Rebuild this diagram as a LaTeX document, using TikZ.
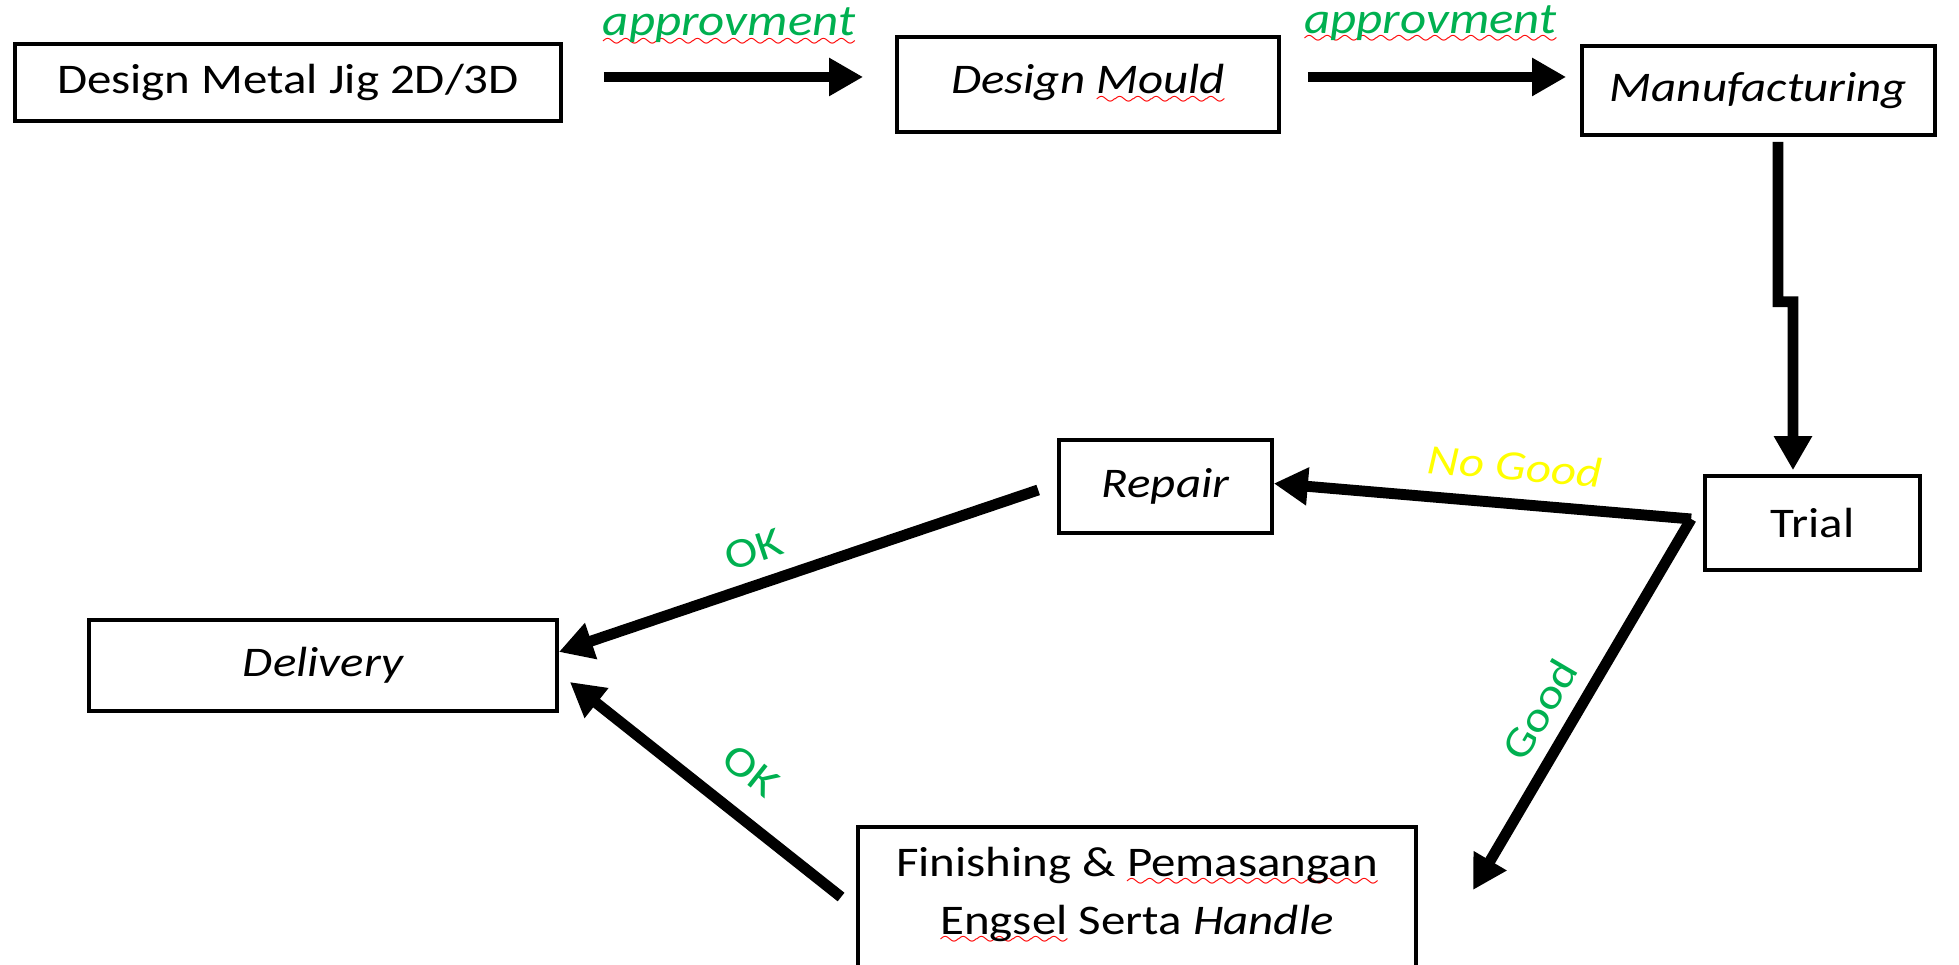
\documentclass[tikz,border=0pt]{standalone}
\usepackage{fontspec}
\setmainfont{Carlito}[FakeStretch = 1.16]
\usetikzlibrary{arrows.meta}

\font\wavefont = lasy6
\newsavebox{\wavebox}
\newcommand{\redwave}[1]{\sbox{\wavebox}{#1}\rlap{\textcolor{red}{\lower3pt\hbox to \wd\wavebox{\wavefont\xleaders\hbox{\char58}\hfill}}}\usebox{\wavebox}}

\definecolor{okgreen}{HTML}{00B050}
\definecolor{ngyellow}{HTML}{FFFF00}

\tikzset{
	box/.style = {draw, line width = 1pt, inner sep = 0pt, font = \fontsize{12}{16.6}\selectfont},
	ibox/.style = {box, font = \fontsize{12}{16.6}\selectfont\itshape},
	flow/.style = {->, line width = 3.1pt},
	greenlbl/.style = {text = okgreen, font = \fontsize{12.5}{15}\selectfont\itshape, inner sep = 1pt},
	oklbl/.style = {text = okgreen, font = \fontsize{12}{14}\selectfont, inner sep = 1pt},
	nglbl/.style = {text = ngyellow, font = \fontsize{12}{14}\selectfont\itshape, inner sep = 1pt}
}

\begin{document}
\begin{tikzpicture}[x = 0.01cm, y = -0.01cm, > = {Triangle[length = 0.34cm, width = 0.36cm]}]

	% Page frame

	\useasboundingbox (0, 0) rectangle (1959, 965);
	\clip (0, 0) rectangle (1959, 965);

	% Top row

	\node [box, minimum width = 5.46cm, minimum height = 0.77cm] (jig) at (288, 82.5) {Design Metal Jig 2D/3D};
	\node [ibox, minimum width = 3.82cm, minimum height = 0.95cm] (mould) at (1088, 84.5) {Design \redwave{Mould}};
	\node [ibox, minimum width = 3.53cm, minimum height = 0.89cm] (manuf) at (1758.5, 90.5) {Manufacturing};

	% Lower part

	\node [box, minimum width = 2.15cm, minimum height = 0.94cm] (trial) at (1812.5, 523) {Trial};
	\node [ibox, minimum width = 2.13cm, minimum height = 0.93cm] (repair) at (1165.5, 486.5) {Repair};
	\node [ibox, minimum width = 4.68cm, minimum height = 0.91cm] (delivery) at (323, 665.5) {Delivery};
	\node [box, anchor = north, align = center, minimum width = 5.58cm, inner ysep = 0.2cm, text depth = 1.6cm] (finish) at (1137, 825)
		{Finishing \& \redwave{Pemasangan}\\\redwave{Engsel} Serta \textit{Handle}};

	% Approval arrows

	\coordinate (a1) at ([yshift = 0.055cm] jig.east);
	\coordinate (a2) at ([yshift = 0.075cm] mould.east);

	\draw [flow, shorten < = 0.41cm, shorten > = 0.32cm] (a1) -- node [greenlbl, above = 0.22cm] {\redwave{approvment}} (a1 -| mould.west);
	\draw [flow, shorten < = 0.27cm, shorten > = 0.14cm] (a2) -- node [greenlbl, above = 0.24cm] {\redwave{approvment}} (a2 -| manuf.west);

	% Down to trial

	\draw [flow] ([xshift = 0.195cm, yshift = -0.05cm] manuf.south) -- ++(0, 160) -- ++(15, 0) -- ([xshift = -0.195cm, yshift = 0.04cm] trial.north);

	% Trial outcomes

	\coordinate (split) at ([xshift = -0.12cm, yshift = 0.04cm] trial.west);

	\draw [flow] (split) -- node [nglbl, pos = 0.43, sloped, above = 0.14cm] {No Good} ([yshift = 0.03cm] repair.east);
	\draw [flow] (split) -- node [oklbl, pos = 0.56, sloped, above = 0.1cm] {Good} ([xshift = 0.55cm, yshift = -0.65cm] finish.north east);

	% Into delivery

	\draw [flow] ([xshift = -0.19cm, yshift = -0.035cm] repair.west) -- node [oklbl, pos = 0.57, sloped, above = 0.12cm] {OK} ([yshift = 0.135cm] delivery.east);
	\draw [flow] ([xshift = -0.15cm, yshift = -0.72cm] finish.north west) -- node [oklbl, pos = 0.43, sloped, above = 0.2cm] {OK} ([xshift = 0.11cm, yshift = -0.165cm] delivery.east);

\end{tikzpicture}
\end{document}
